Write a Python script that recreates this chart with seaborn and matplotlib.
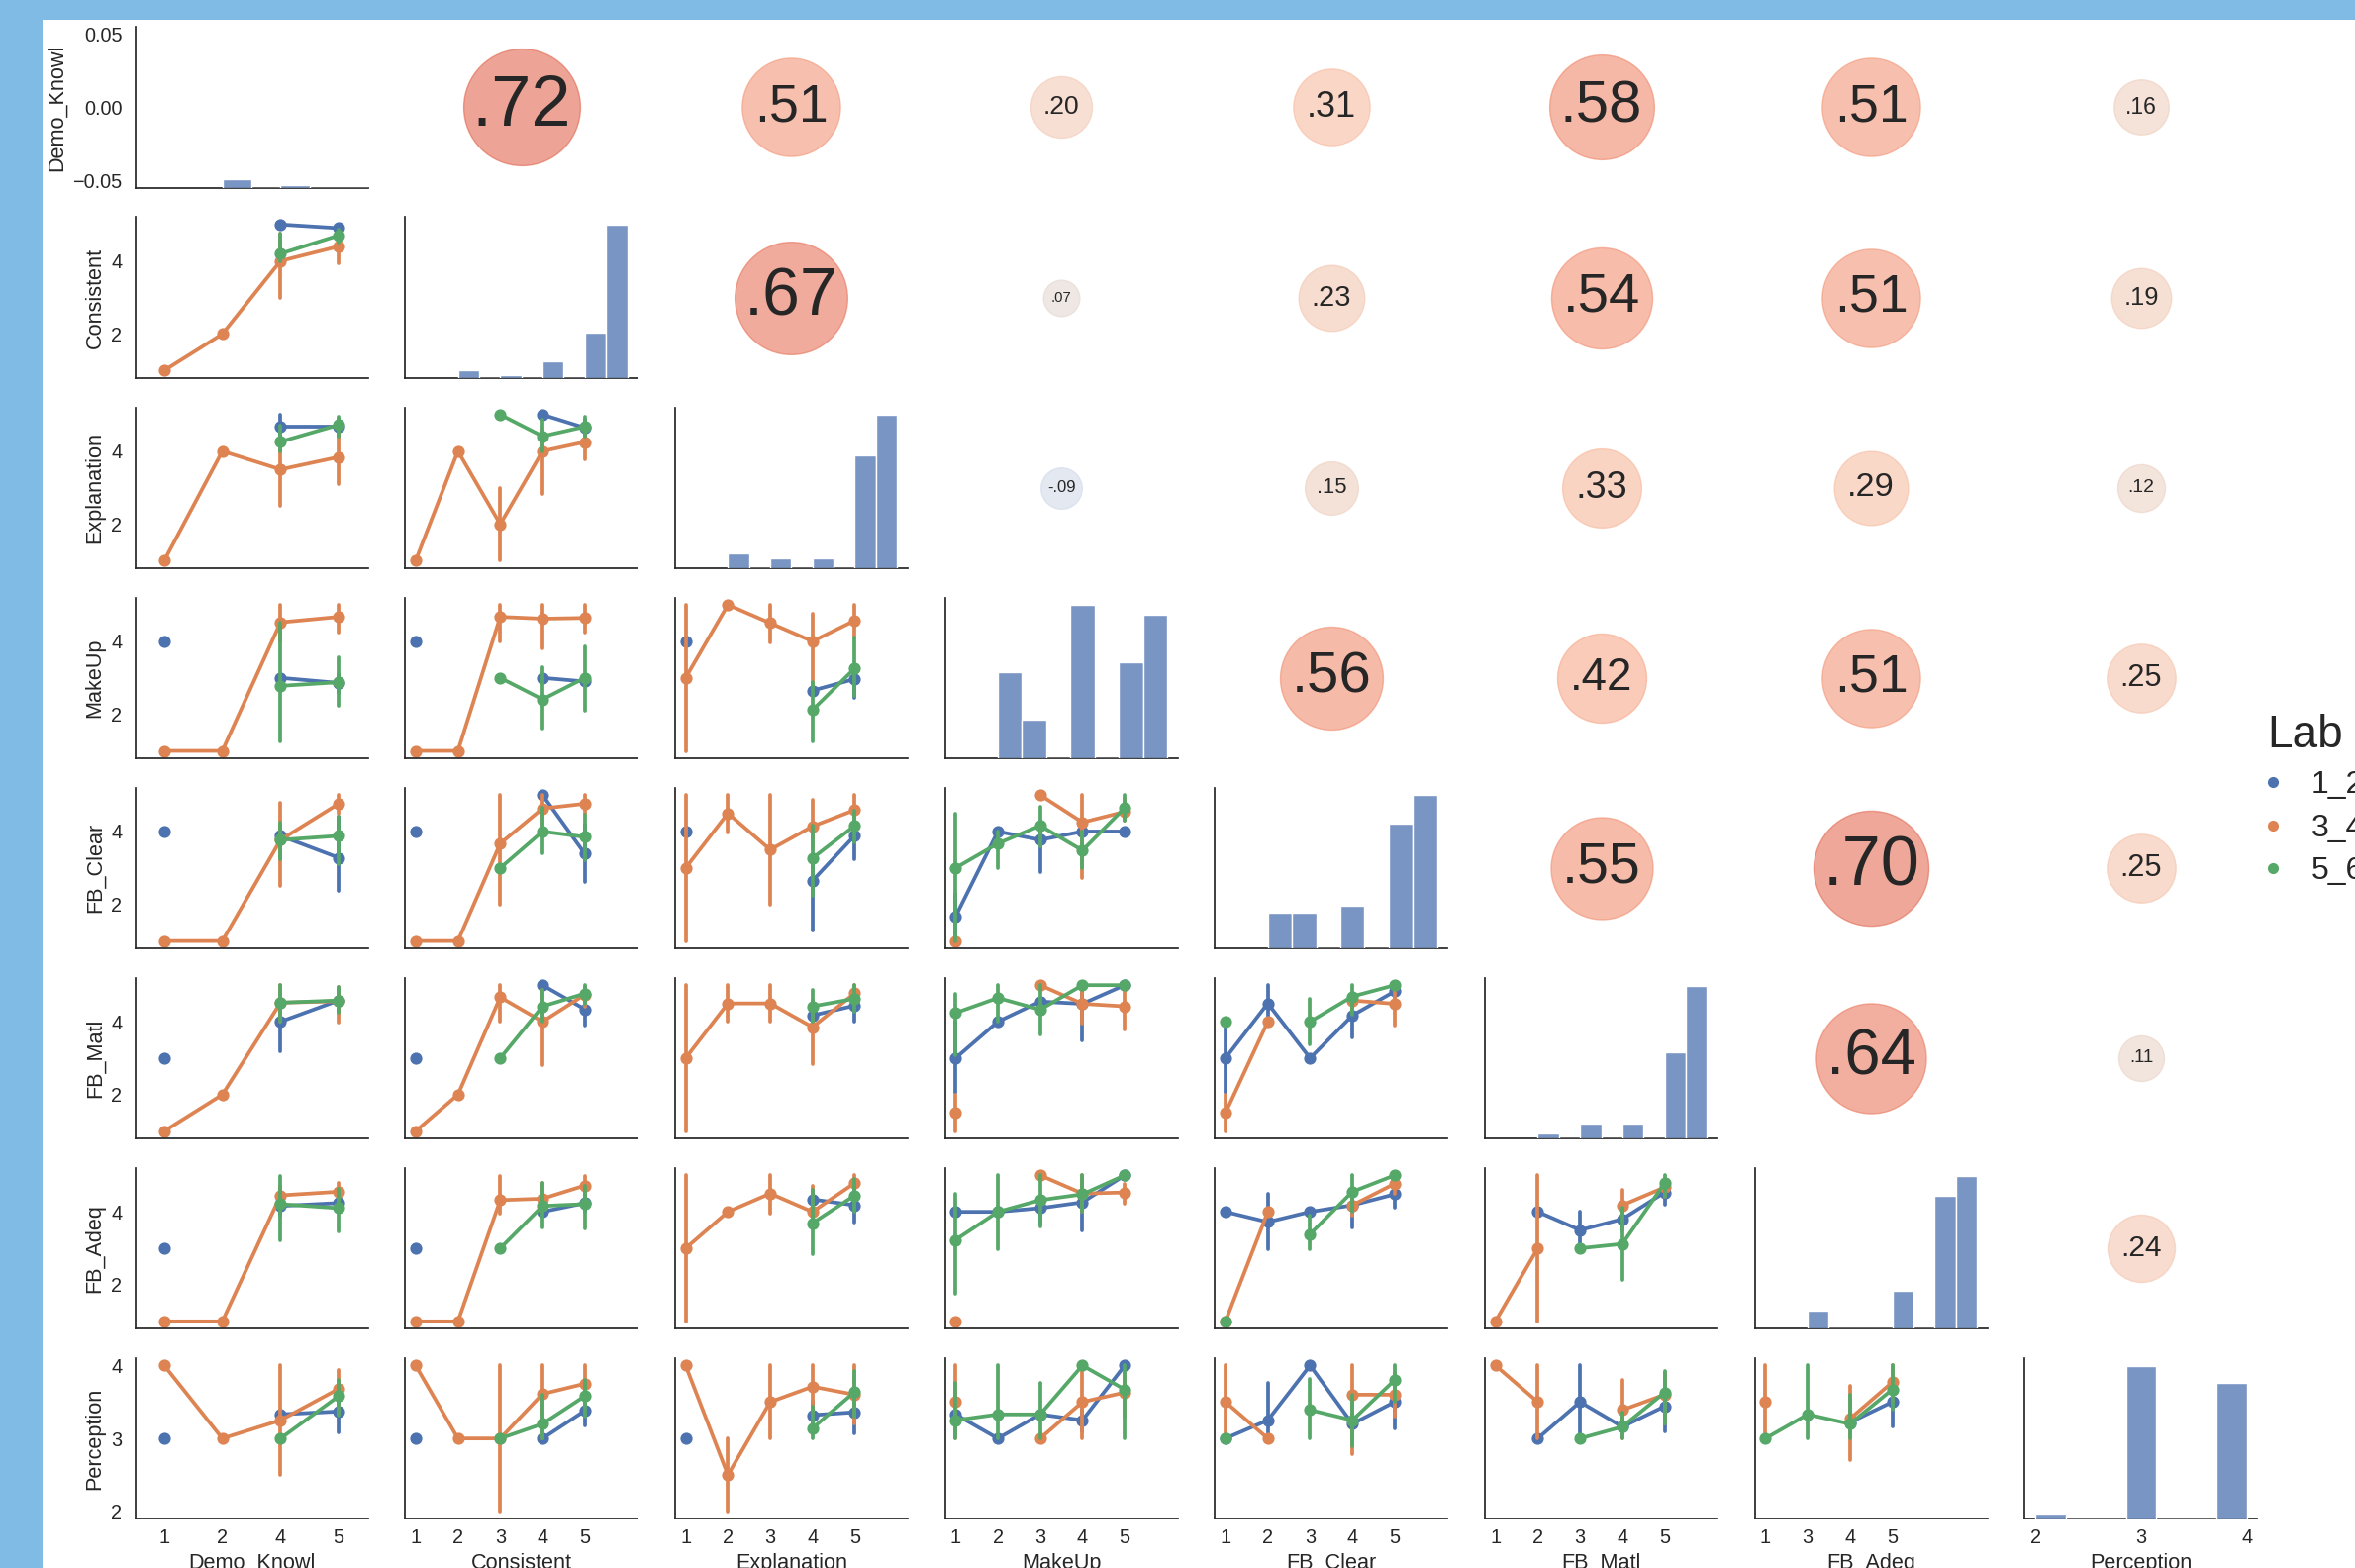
import matplotlib
matplotlib.use("Agg")
import matplotlib.pyplot as plt
from matplotlib.lines import Line2D
from matplotlib.patches import Rectangle
import numpy as np
import pandas as pd
import seaborn as sns

sns.set_theme(style="white", context="notebook", font_scale=1.3)
plt.rcParams["font.family"] = ["Liberation Sans", "DejaVu Sans"]

# ---------------------------------------------------------------- data
VARIABLES = ["Demo_Knowl", "Consistent", "Explanation", "MakeUp",
             "FB_Clear", "FB_Matl", "FB_Adeq", "Perception"]
LABS = ["1_2", "3_4", "5_6"]

# answer levels present for each item (categorical x axis of the point plots)
X_LEVELS = {
    "Demo_Knowl": [1, 2, 4, 5],
    "Consistent": [1, 2, 3, 4, 5],
    "Explanation": [1, 2, 3, 4, 5],
    "MakeUp": [1, 2, 3, 4, 5],
    "FB_Clear": [1, 2, 3, 4, 5],
    "FB_Matl": [1, 2, 3, 4, 5],
    "FB_Adeq": [1, 3, 4, 5],
}

# response counts per item (diagonal histograms)
hist_values = {
    "Demo_Knowl": [1, 2, 4, 5],
    "Consistent": [1, 2, 3, 4, 5],
    "Explanation": [1, 2, 3, 4, 5],
    "MakeUp": [1, 2, 3, 4, 5],
    "FB_Clear": [1, 2, 3, 4, 5],
    "FB_Matl": [1, 2, 3, 4, 5],
    "FB_Adeq": [1, 3, 4, 5],
    "Perception": [2, 3, 4],
}
hist_counts = {
    "Demo_Knowl": [3, 1, 35, 57],
    "Consistent": [3, 1, 6, 17, 57],
    "Explanation": [6, 4, 4, 45, 61],
    "MakeUp": [18, 8, 32, 20, 30],
    "FB_Clear": [10, 10, 12, 35, 43],
    "FB_Matl": [2, 6, 6, 34, 60],
    "FB_Adeq": [7, 15, 52, 60],
    "Perception": [2, 64, 57],
}
hist_bins = {"Demo_Knowl": 8, "Consistent": 8, "Explanation": 8, "MakeUp": 7,
             "FB_Clear": 7, "FB_Matl": 8, "FB_Adeq": 8, "Perception": 7}
hist_range = {v: (1, 5) for v in VARIABLES[:-1]}
hist_range["Perception"] = (2, 4)

# Pearson correlations, upper triangle, one list per row item
corr_demo_knowl = [.72, .51, .20, .31, .58, .51, .16]
corr_consistent = [.67, .07, .23, .54, .51, .19]
corr_explanation = [-.09, .15, .33, .29, .12]
corr_makeup = [.56, .42, .51, .25]
corr_fb_clear = [.55, .70, .25]
corr_fb_matl = [.64, .11]
corr_fb_adeq = [.24]
CORR_ROWS = [corr_demo_knowl, corr_consistent, corr_explanation, corr_makeup,
             corr_fb_clear, corr_fb_matl, corr_fb_adeq]

# Group means with interval bounds: (low, mean, high) per x level, None = no responses
consistent_by_demo = {
    "1_2": [None, None, (5, 5, 5), (4.75, 4.9, 5.0)],
    "3_4": [(1, 1, 1), (2, 2, 2), (3.0, 4.0, 4.75), (3.95, 4.4, 4.8)],
    "5_6": [None, None, (4.0, 4.2, 4.75), (4.5, 4.7, 4.85)],
}
explanation_by_demo = {
    "1_2": [None, None, (4.3, 4.67, 5.0), (4.4, 4.67, 4.9)],
    "3_4": [(1, 1, 1), (4, 4, 4), (2.5, 3.5, 4.3), (3.1, 3.84, 4.6)],
    "5_6": [None, None, (4.0, 4.26, 4.7), (4.4, 4.72, 4.95)],
}
makeup_by_demo = {
    "1_2": [(4, 4, 4), None, (3, 3, 3), (2.6, 2.86, 3.1)],
    "3_4": [(1, 1, 1), (1, 1, 1), (4.0, 4.52, 5.0), (4.25, 4.67, 5.0)],
    "5_6": [None, None, (1.27, 2.78, 4.5), (2.24, 2.88, 3.55)],
}
fbclear_by_demo = {
    "1_2": [(4, 4, 4), None, (3.6, 3.88, 4.1), (2.36, 3.28, 4.4)],
    "3_4": [(1, 1, 1), (1, 1, 1), (2.5, 3.77, 4.79), (4.5, 4.76, 5.0)],
    "5_6": [None, None, (3.25, 3.77, 4.24), (3.1, 3.88, 4.4)],
}
fbmatl_by_demo = {
    "1_2": [(3, 3, 3), None, (3.18, 4.0, 4.56), (4.3, 4.58, 4.85)],
    "3_4": [(1, 1, 1), (2, 2, 2), (4.0, 4.52, 5.0), (3.97, 4.56, 4.94)],
    "5_6": [None, None, (4.0, 4.52, 5.0), (4.24, 4.58, 4.94)],
}
fbadeq_by_demo = {
    "1_2": [(3, 3, 3), None, (3.9, 4.16, 4.4), (4.0, 4.24, 4.5)],
    "3_4": [(1, 1, 1), (1, 1, 1), (4.2, 4.45, 4.7), (4.2, 4.55, 4.8)],
    "5_6": [None, None, (3.23, 4.21, 4.98), (3.47, 4.1, 4.63)],
}
perception_by_demo = {
    "1_2": [(3, 3, 3), None, (3.33, 3.33, 3.33), (3.09, 3.37, 3.6)],
    "3_4": [(4, 4, 4), (3, 3, 3), (2.5, 3.25, 4.0), (3.34, 3.68, 3.94)],
    "5_6": [None, None, (3, 3, 3), (3.31, 3.58, 3.8)],
}

explanation_by_consistent = {
    "1_2": [None, None, None, (5, 5, 5), (4.4, 4.64, 4.85)],
    "3_4": [(1, 1, 1), (4, 4, 4), (1.0, 2.0, 3.0), (2.82, 4.0, 4.6), (3.77, 4.25, 4.6)],
    "5_6": [None, None, (5, 5, 5), (4.0, 4.41, 4.87), (4.4, 4.67, 4.95)],
}
makeup_by_consistent = {
    "1_2": [(4, 4, 4), None, None, (3, 3, 3), (2.8, 2.9, 3.0)],
    "3_4": [(1, 1, 1), (1, 1, 1), (4.0, 4.67, 5.0), (3.8, 4.62, 5.0), (4.25, 4.64, 5.0)],
    "5_6": [None, None, (3, 3, 3), (1.6, 2.41, 3.3), (2.1, 3.0, 3.87)],
}
fbclear_by_consistent = {
    "1_2": [(4, 4, 4), None, None, (5, 5, 5), (2.62, 3.39, 4.2)],
    "3_4": [(1, 1, 1), (1, 1, 1), (2.0, 3.67, 5.0), (4.2, 4.63, 5.0), (4.5, 4.76, 5.0)],
    "5_6": [None, None, (3, 3, 3), (3.4, 4.0, 4.66), (3.2, 3.85, 4.45)],
}
fbmatl_by_consistent = {
    "1_2": [(3, 3, 3), None, None, (5, 5, 5), (3.9, 4.34, 4.56)],
    "3_4": [(1, 1, 1), (2, 2, 2), (4.0, 4.67, 5.0), (2.82, 4.0, 4.88), (4.4, 4.74, 4.94)],
    "5_6": [None, None, (3, 3, 3), (4.0, 4.42, 4.88), (4.5, 4.77, 5.0)],
}
fbadeq_by_consistent = {
    "1_2": [(3, 3, 3), None, None, (4, 4, 4), (4.0, 4.24, 4.5)],
    "3_4": [(1, 1, 1), (1, 1, 1), (3.95, 4.32, 4.98), (4.0, 4.36, 4.8), (4.4, 4.72, 4.98)],
    "5_6": [None, None, (3, 3, 3), (3.58, 4.16, 4.79), (3.55, 4.21, 4.72)],
}
perception_by_consistent = {
    "1_2": [(3, 3, 3), None, None, (3, 3, 3), (3.18, 3.38, 3.6)],
    "3_4": [(4, 4, 4), (3, 3, 3), (2.0, 3.0, 4.0), (3.0, 3.61, 4.0), (3.45, 3.75, 4.0)],
    "5_6": [None, None, (3, 3, 3), (3.0, 3.2, 3.6), (3.3, 3.58, 3.8)],
}

makeup_by_explanation = {
    "1_2": [(4, 4, 4), None, None, (2.5, 2.65, 2.8), (2.46, 2.97, 3.3)],
    "3_4": [(1.0, 3.0, 5.0), (5, 5, 5), (3.96, 4.5, 5.0), (2.8, 4.0, 4.75), (4.1, 4.57, 5.0)],
    "5_6": [None, None, None, (1.26, 2.12, 2.89), (2.5, 3.26, 4.1)],
}
fbclear_by_explanation = {
    "1_2": [(4, 4, 4), None, None, (1.3, 2.65, 3.3), (3.24, 3.89, 4.3)],
    "3_4": [(1.0, 3.0, 5.0), (3.96, 4.5, 5.0), (2.0, 3.5, 5.0), (3.5, 4.14, 4.87), (4.2, 4.59, 5.0)],
    "5_6": [None, None, None, (2.23, 3.27, 4.16), (3.7, 4.16, 4.57)],
}
fbmatl_by_explanation = {
    "1_2": [None, None, None, (3.9, 4.17, 4.4), (4.0, 4.44, 4.9)],
    "3_4": [(1.0, 3.0, 5.0), (4.0, 4.5, 5.0), (4.0, 4.5, 5.0), (2.83, 3.85, 4.6), (4.5, 4.78, 5.0)],
    "5_6": [None, None, None, (4.0, 4.42, 4.87), (4.26, 4.63, 5.0)],
}
fbadeq_by_explanation = {
    "1_2": [None, None, None, (4.1, 4.34, 4.6), (3.7, 4.18, 4.5)],
    "3_4": [(1.0, 3.0, 5.0), (4, 4, 4), (3.96, 4.5, 5.0), (3.6, 4.0, 4.7), (4.4, 4.79, 5.0)],
    "5_6": [None, None, None, (2.83, 3.69, 4.6), (4.0, 4.45, 4.9)],
}
perception_by_explanation = {
    "1_2": [(3, 3, 3), None, None, (3.1, 3.32, 3.5), (3.07, 3.36, 3.57)],
    "3_4": [(4, 4, 4), (2.0, 2.5, 3.0), (3.0, 3.5, 4.0), (3.35, 3.71, 4.0), (3.2, 3.6, 4.0)],
    "5_6": [None, None, None, (3.0, 3.14, 3.44), (3.3, 3.64, 3.92)],
}

fbclear_by_makeup = {
    "1_2": [(1.0, 1.67, 2.3), (4, 4, 4), (2.89, 3.77, 4.3), (4, 4, 4), (4, 4, 4)],
    "3_4": [(1, 1, 1), None, (5, 5, 5), (2.73, 4.25, 5.0), (4.3, 4.54, 4.9)],
    "5_6": [(1.0, 3.0, 4.5), (3.0, 3.67, 4.0), (3.6, 4.16, 4.67), (3.0, 3.48, 4.0), (4.3, 4.65, 5.0)],
}
fbmatl_by_makeup = {
    "1_2": [(2.06, 3.0, 4.0), (4, 4, 4), (4.55, 4.55, 4.55), (3.48, 4.49, 5.0), (5, 5, 5)],
    "3_4": [(1.0, 1.5, 2.0), None, (5, 5, 5), (3.94, 4.49, 5.0), (3.78, 4.42, 5.0)],
    "5_6": [(3.08, 4.24, 4.76), (4.0, 4.65, 5.0), (3.64, 4.33, 5.0), (5, 5, 5), (5, 5, 5)],
}
fbadeq_by_makeup = {
    "1_2": [(4, 4, 4), (4, 4, 4), (3.64, 4.1, 4.4), (3.48, 4.26, 4.6), (5, 5, 5)],
    "3_4": [(1, 1, 1), None, (5, 5, 5), (4.0, 4.5, 5.0), (4.23, 4.53, 4.77)],
    "5_6": [(1.75, 3.23, 4.5), (2.97, 4.0, 5.0), (3.6, 4.32, 5.0), (4.0, 4.48, 5.0), (5, 5, 5)],
}
perception_by_makeup = {
    "1_2": [(3.1, 3.33, 3.5), (3, 3, 3), (3.33, 3.33, 3.33), (3.1, 3.25, 3.4), (4, 4, 4)],
    "3_4": [(3.0, 3.5, 4.0), None, (3, 3, 3), (3.0, 3.5, 4.0), (3.3, 3.63, 3.9)],
    "5_6": [(3.0, 3.25, 3.76), (3.0, 3.33, 4.0), (3.0, 3.33, 3.76), (4, 4, 4), (3.0, 3.67, 4.0)],
}

fbmatl_by_fbclear = {
    "1_2": [(2.06, 3.0, 4.0), (4.0, 4.5, 5.0), (3, 3, 3), (3.56, 4.17, 4.6), (4.6, 4.83, 5.0)],
    "3_4": [(1.0, 1.5, 2.0), (4, 4, 4), None, (4.3, 4.58, 4.8), (3.88, 4.49, 5.0)],
    "5_6": [(4, 4, 4), None, (3.37, 4.0, 4.63), (4.2, 4.69, 5.0), (5, 5, 5)],
}
fbadeq_by_fbclear = {
    "1_2": [(4, 4, 4), (2.97, 3.72, 4.5), (4, 4, 4), (3.58, 4.18, 4.6), (4.12, 4.48, 4.8)],
    "3_4": [(1, 1, 1), (4, 4, 4), None, (3.9, 4.18, 4.5), (4.5, 4.77, 5.0)],
    "5_6": [(1, 1, 1), None, (2.97, 3.39, 3.9), (4.0, 4.55, 5.0), (5, 5, 5)],
}
perception_by_fbclear = {
    "1_2": [(3, 3, 3), (3.0, 3.25, 3.76), (4, 4, 4), (3.0, 3.2, 3.4), (3.14, 3.5, 3.79)],
    "3_4": [(3.0, 3.5, 4.0), (3, 3, 3), None, (2.79, 3.6, 4.0), (3.3, 3.6, 3.9)],
    "5_6": [(3, 3, 3), None, (3.0, 3.39, 3.81), (2.9, 3.25, 3.6), (3.5, 3.8, 4.0)],
}

fbadeq_by_fbmatl = {
    "1_2": [None, (4, 4, 4), (3.0, 3.5, 4.0), (3.5, 3.8, 4.1), (4.2, 4.53, 4.8)],
    "3_4": [(1, 1, 1), (1.0, 3.0, 5.0), None, (3.9, 4.18, 4.6), (4.4, 4.67, 4.9)],
    "5_6": [None, None, (3, 3, 3), (2.14, 3.12, 4.1), (4.4, 4.78, 5.0)],
}
perception_by_fbmatl = {
    "1_2": [None, (3, 3, 3), (3.0, 3.5, 4.0), (3.1, 3.16, 3.3), (3.1, 3.44, 3.7)],
    "3_4": [(4, 4, 4), (3.0, 3.5, 4.0), None, (3.0, 3.39, 3.8), (3.2, 3.6, 3.9)],
    "5_6": [None, None, (3, 3, 3), (3.0, 3.16, 3.35), (3.2, 3.63, 3.92)],
}

perception_by_fbadeq = {
    "1_2": [None, None, (3.22, 3.22, 3.22), (3.16, 3.5, 3.75)],
    "3_4": [(3.0, 3.5, 4.0), None, (2.7, 3.27, 3.72), (3.5, 3.77, 4.0)],
    "5_6": [(3, 3, 3), (3.0, 3.33, 4.0), (3.0, 3.2, 3.6), (3.4, 3.67, 4.0)],
}

LOWER_CELLS = {
    (1, 0): consistent_by_demo,
    (2, 0): explanation_by_demo, (2, 1): explanation_by_consistent,
    (3, 0): makeup_by_demo, (3, 1): makeup_by_consistent, (3, 2): makeup_by_explanation,
    (4, 0): fbclear_by_demo, (4, 1): fbclear_by_consistent, (4, 2): fbclear_by_explanation,
    (4, 3): fbclear_by_makeup,
    (5, 0): fbmatl_by_demo, (5, 1): fbmatl_by_consistent, (5, 2): fbmatl_by_explanation,
    (5, 3): fbmatl_by_makeup, (5, 4): fbmatl_by_fbclear,
    (6, 0): fbadeq_by_demo, (6, 1): fbadeq_by_consistent, (6, 2): fbadeq_by_explanation,
    (6, 3): fbadeq_by_makeup, (6, 4): fbadeq_by_fbclear, (6, 5): fbadeq_by_fbmatl,
    (7, 0): perception_by_demo, (7, 1): perception_by_consistent,
    (7, 2): perception_by_explanation, (7, 3): perception_by_makeup,
    (7, 4): perception_by_fbclear, (7, 5): perception_by_fbmatl,
    (7, 6): perception_by_fbadeq,
}

# ---------------------------------------------------------------- layout
W, H = 2379, 1584
BORDER = "#80bbe6"
PALETTE = sns.color_palette("deep", 3)

X_LIMS = [(-0.5, 3.5)] + [(-0.25, 5.25)] * 6 + [(1.9, 4.1)]
Y_LIMS = [(-0.055, 0.055)] + [(0.8, 5.2)] * 6 + [(1.9, 4.1)]
Y_TICKS = [[-0.05, 0.0, 0.05]] + [[2, 4]] * 6 + [[2, 3, 4]]

fig = plt.figure(figsize=(W / 100, H / 100), dpi=100, facecolor=BORDER)
fig.add_artist(Rectangle((43 / W, 0), 1 - 43 / W, 1 - 20 / H,
                         transform=fig.transFigure, facecolor="white",
                         edgecolor="none", zorder=-10))


def cell_axes(r, c):
    left = 136.5 + 272.7 * c
    top = 27.3 + 192.1 * r
    return fig.add_axes([left / W, 1 - (top + 162.3) / H, 235 / W, 162.3 / H])


def long_table(cell, levels):
    rows = []
    for lab in LABS:
        for level, stat in zip(levels, cell[lab]):
            if stat is None:
                continue
            for v in stat:
                rows.append((level, v, lab))
    return pd.DataFrame(rows, columns=["x", "y", "Lab"])


n = len(VARIABLES)
for r in range(n):
    for c in range(n):
        ax = cell_axes(r, c)
        if c > r:
            # correlation bubble
            rho = CORR_ROWS[r][c - r - 1]
            ax.set_axis_off()
            ax.scatter([.5], [.5], s=abs(rho) * 10000, c=[rho], cmap="coolwarm",
                       vmin=-1, vmax=1, alpha=0.6, transform=ax.transAxes)
            label = f"{rho:.2f}".replace("0.", ".")
            ax.annotate(label, (.5, .5), xycoords="axes fraction", ha="center",
                        va="center", fontsize=abs(rho) * 63.5 + 6.3, color=".15")
            continue

        var_x = VARIABLES[c]
        if c == r:
            hx = ax.twinx()
            sns.histplot(x=hist_values[var_x], weights=hist_counts[var_x],
                         bins=hist_bins[var_x], binrange=hist_range[var_x], ax=hx)
            hx.set_axis_off()
        else:
            levels = X_LEVELS[var_x]
            df = long_table(LOWER_CELLS[(r, c)], levels)
            sns.pointplot(data=df, x="x", y="y", hue="Lab", order=levels,
                          hue_order=LABS, palette=PALETTE, estimator="median",
                          errorbar=("pi", 100), legend=False, ax=ax)

        ax.set_xlim(*X_LIMS[c])
        ax.set_ylim(*Y_LIMS[r])
        ax.set_yticks(Y_TICKS[r])
        if c < n - 1:
            ax.set_xticks(range(len(X_LEVELS[var_x])))
            ax.set_xticklabels([str(v) for v in X_LEVELS[var_x]])
        else:
            ax.set_xticks([2, 3, 4])
        ax.tick_params(left=False, bottom=False, right=False, top=False,
                       labelbottom=(r == n - 1), labelleft=(c == 0))
        ax.tick_params(axis="x", pad=1.0)
        ax.set_xlabel(var_x if r == n - 1 else "")
        ax.set_ylabel(VARIABLES[r] if c == 0 else "")
        sns.despine(ax=ax)

handles = [Line2D([], [], marker="o", linestyle="", color=col, markersize=7)
           for col in PALETTE]
fig.legend(handles, LABS, title="Lab", loc="upper left",
           bbox_to_anchor=(2290 / W, 1 - 721 / H), frameon=False,
           fontsize=23, title_fontsize=33, alignment="left",
           handlelength=0.4, handletextpad=1.0, labelspacing=0.42,
           borderpad=0, borderaxespad=0)

fig.savefig("out.png", dpi=100)
